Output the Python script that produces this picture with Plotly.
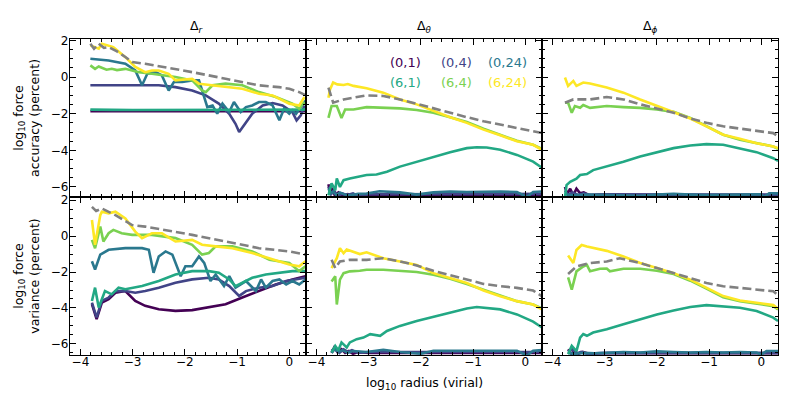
import plotly.graph_objects as go
from plotly.subplots import make_subplots

# viridis picks for the six (order, npoints) cases + reference line
case_names = ["(0,1)", "(0,4)", "(0,24)", "(6,1)", "(6,4)", "(6,24)"]
case_colors = ["#440154", "#414487", "#2a788e", "#22a884", "#7ad151", "#fde725"]
ref_color = "#808080"

col_titles = ["Δ<sub><i>r</i></sub>", "Δ<sub><i>θ</i></sub>", "Δ<sub><i>ϕ</i></sub>"]
row_titles = ["log<sub>10</sub> force<br>accuracy (percent)",
              "log<sub>10</sub> force<br>variance (percent)"]
x_title = "log<sub>10</sub> radius (virial)"
x_ticks = [-4, -3, -2, -1, 0]
y_ticks = [-6, -4, -2, 0, 2]

# ---- Delta_r, accuracy
r_acc_x01 = [-3.81, -3.0, -2.0, -1.0, 0.0, 0.32]
r_acc_y01 = [-1.86, -1.86, -1.86, -1.87, -1.88, -1.86]
r_acc_x04 = [-3.81, -2.50, -2.18, -1.86, -1.60, -1.35, -1.15, -1.03, -0.96, -0.87, -0.71, -0.51,
             -0.32, -0.13, 0.06, 0.14, 0.22, 0.29]
r_acc_y04 = [-0.45, -0.45, -0.55, -0.73, -1.0, -1.45, -2.0, -2.55, -3.0, -2.64, -2.0, -1.55,
             -1.42, -1.55, -1.91, -2.36, -2.09, -1.55]
r_acc_x024 = [-3.81, -3.46, -3.14, -2.95, -2.82, -2.72, -2.56, -2.44, -2.31, -2.21, -2.05, -1.86,
              -1.73, -1.60, -1.57, -1.47, -1.38, -1.28, -1.15, -1.06, -0.93, -0.83, -0.71, -0.58,
              -0.45, -0.32, -0.19, -0.10, 0.0, 0.06, 0.13, 0.22, 0.32]
r_acc_y024 = [1.0, 0.91, 0.73, 0.36, -0.45, 0.18, 0.27, 0.09, -0.73, -0.27, -0.27, -0.18,
              -0.18, -1.27, -1.64, -1.55, -2.0, -1.45, -1.91, -1.36, -1.91, -1.64, -1.55, -1.36,
              -1.36, -1.55, -2.36, -1.73, -2.0, -1.82, -2.0, -1.64, -1.27]
r_acc_x61 = [-3.81, -3.6, -3.4, -3.0, -2.5, -2.0, -1.5, -1.0, -0.5, 0.0, 0.32]
r_acc_y61 = [-1.78, -1.80, -1.79, -1.80, -1.80, -1.80, -1.80, -1.80, -1.79, -1.80, -1.78]
r_acc_x64 = [-3.81, -3.72, -3.65, -3.59, -3.50, -3.40, -3.30, -3.14, -2.88, -2.63, -2.18, -1.86,
             -1.67, -1.60, -1.47, -1.22, -0.90, -0.58, -0.26, 0.06, 0.19, 0.29]
r_acc_y64 = [0.64, 0.45, 0.58, 0.50, 0.40, 0.45, 0.38, 0.45, 0.27, 0.18, 0.0, -0.18,
             -0.73, -0.82, -0.45, -0.36, -0.45, -0.82, -1.09, -1.45, -1.73, -1.36]
r_acc_x624 = [-3.81, -3.65, -3.59, -3.37, -3.14, -2.95, -2.76, -2.63, -2.50, -2.31, -2.18, -1.86,
              -1.73, -1.47, -1.22, -0.90, -0.58, -0.32, 0.0, 0.19, 0.29]
r_acc_y624 = [1.73, 1.55, 1.82, 1.64, 1.09, 0.55, 0.27, 0.36, 0.36, 0.18, -0.18, -0.09,
              -0.36, -0.45, -0.55, -0.64, -0.91, -1.0, -1.45, -1.55, -1.09]
r_acc_xref = [-3.81, -3.74, -3.65, -3.55, -3.46, -3.30, -3.14, -3.01, -2.76, -2.30, -1.86, -1.22,
              -0.58, -0.20, 0.0, 0.19, 0.32]
r_acc_yref = [1.82, 1.55, 1.82, 1.60, 1.64, 1.40, 1.10, 0.82, 0.73, 0.50, 0.27, -0.09,
              -0.45, -0.55, -0.64, -0.82, -1.0]

# ---- Delta_theta, accuracy
t_acc_x01 = [-3.77, -3.74, -3.70, -3.65, -3.58, -3.50, -3.40, -3.30, -3.10, -2.90, -2.0, -1.0, 0.0, 0.32]
t_acc_y01 = [-5.85, -6.3, -6.05, -6.45, -6.3, -6.5, -6.4, -6.5, -6.45, -6.5, -6.45, -6.45, -6.45, -6.45]
t_acc_x04 = [-3.77, -3.72, -3.66, -3.60, -3.50, -3.42, -3.30, -3.20, -3.0, -2.0, -1.0, 0.0, 0.32]
t_acc_y04 = [-6.0, -6.4, -6.2, -6.5, -6.35, -6.45, -6.35, -6.5, -6.4, -6.4, -6.38, -6.38, -6.38]
t_acc_x024 = [-3.77, -3.72, -3.68, -3.62, -3.55, -3.48, -3.36, -3.20, -3.04, -2.79, -2.40, -2.08,
              -1.76, -1.44, -1.12, -0.80, -0.48, -0.16, 0.03, 0.15, 0.32]
t_acc_y024 = [-6.1, -6.35, -6.25, -6.45, -6.3, -6.4, -6.45, -6.38, -6.36, -6.24, -6.3, -6.42,
              -6.3, -6.25, -6.28, -6.25, -6.25, -6.28, -6.55, -6.28, -6.25]
t_acc_x61 = [-3.77, -3.71, -3.64, -3.61, -3.55, -3.48, -3.36, -3.23, -3.04, -2.85, -2.65, -2.40,
             -2.08, -1.76, -1.44, -1.12, -0.93, -0.74, -0.48, -0.16, 0.15, 0.32]
t_acc_y61 = [-6.46, -5.81, -6.18, -5.54, -6.0, -5.63, -5.54, -5.45, -5.35, -5.32, -5.17, -4.89,
             -4.62, -4.34, -4.10, -3.88, -3.83, -3.85, -3.97, -4.25, -4.62, -4.95]
t_acc_x64 = [-3.77, -3.71, -3.61, -3.52, -3.45, -3.29, -3.04, -2.72, -2.40, -2.08, -1.76, -1.44,
             -1.12, -0.80, -0.48, -0.16, 0.15, 0.32]
t_acc_y64 = [-2.23, -1.58, -1.58, -2.23, -1.77, -1.77, -1.64, -1.68, -1.71, -1.80, -1.95, -2.19,
             -2.45, -2.82, -3.15, -3.48, -3.70, -3.92]
t_acc_x624 = [-3.77, -3.74, -3.68, -3.60, -3.48, -3.40, -3.29, -3.04, -2.72, -2.40, -2.08, -1.76,
              -1.44, -1.12, -0.80, -0.48, -0.16, 0.15, 0.32]
t_acc_y624 = [-1.13, -0.67, -0.30, -0.40, -0.43, -0.38, -0.48, -0.61, -0.85, -1.22, -1.49, -1.86,
              -2.19, -2.50, -2.87, -3.18, -3.51, -3.70, -3.97]
t_acc_xref = [-3.77, -3.68, -3.48, -3.29, -3.04, -2.72, -2.40, -2.08, -1.76, -1.44, -1.12, -0.80,
              -0.48, -0.16, 0.15, 0.32]
t_acc_yref = [-0.57, -1.40, -1.22, -1.13, -1.00, -1.03, -1.22, -1.46, -1.71, -1.95, -2.19, -2.41,
              -2.60, -2.78, -2.96, -3.06]

# ---- Delta_phi, accuracy
p_acc_x01 = [-3.76, -3.72, -3.66, -3.60, -3.54, -3.47, -3.40, -3.30, -3.10, -2.5, -1.5, -0.5, 0.32]
p_acc_y01 = [-6.0, -6.4, -6.1, -6.45, -6.1, -6.35, -6.3, -6.45, -6.42, -6.45, -6.45, -6.45, -6.45]
p_acc_x04 = [-3.76, -3.70, -3.62, -3.50, -3.40, -3.25, -3.0, -2.0, -1.0, 0.32]
p_acc_y04 = [-6.2, -6.45, -6.3, -6.45, -6.35, -6.45, -6.4, -6.42, -6.42, -6.42]
p_acc_x024 = [-3.76, -3.60, -3.30, -2.96, -2.50, -2.32, -2.00, -1.68, -1.36, -1.05, -0.41, 0.0,
              0.05, 0.15, 0.32]
p_acc_y024 = [-6.4, -6.45, -6.42, -6.45, -6.45, -6.49, -6.42, -6.38, -6.42, -6.45, -6.42, -6.4,
              -6.55, -6.35, -6.35]
p_acc_x61 = [-3.76, -3.73, -3.66, -3.60, -3.54, -3.47, -3.34, -3.22, -2.96, -2.64, -2.32, -2.00,
             -1.68, -1.36, -1.05, -0.73, -0.41, -0.09, 0.23, 0.32]
p_acc_y61 = [-6.55, -5.90, -5.72, -5.63, -5.55, -5.35, -5.30, -5.08, -4.89, -4.62, -4.34, -4.10,
             -3.88, -3.74, -3.66, -3.70, -3.88, -4.10, -4.43, -4.58]
p_acc_x64 = [-3.76, -3.70, -3.63, -3.57, -3.47, -3.41, -3.28, -2.96, -2.64, -2.32, -2.00, -1.68,
             -1.36, -1.05, -0.73, -0.41, -0.09, 0.23, 0.32]
p_acc_y64 = [-1.40, -1.40, -1.95, -1.58, -1.68, -1.53, -1.68, -1.58, -1.64, -1.68, -1.77, -1.90,
             -2.23, -2.69, -3.15, -3.42, -3.61, -3.79, -3.92]
p_acc_x624 = [-3.76, -3.70, -3.60, -3.54, -3.41, -3.28, -2.96, -2.64, -2.32, -2.00, -1.68, -1.36,
              -1.05, -0.73, -0.41, -0.09, 0.23, 0.32]
p_acc_y624 = [-0.02, -0.48, -0.21, -0.48, -0.30, -0.35, -0.57, -0.85, -1.22, -1.58, -1.90, -2.26,
              -2.69, -3.15, -3.37, -3.61, -3.79, -3.88]
p_acc_xref = [-3.76, -3.60, -3.28, -2.96, -2.64, -2.32, -2.00, -1.68, -1.36, -1.05, -0.73, -0.41,
              -0.09, 0.23, 0.32]
p_acc_yref = [-1.40, -1.22, -1.22, -1.09, -1.22, -1.49, -1.71, -1.95, -2.26, -2.50, -2.69, -2.82,
              -2.96, -3.06, -3.24]

# ---- Delta_r, variance
r_var_x01 = [-3.78, -3.69, -3.59, -3.46, -3.33, -3.14, -2.95, -2.76, -2.50, -2.18, -1.86, -1.54,
             -1.22, -0.90, -0.58, -0.26, 0.06, 0.31]
r_var_y01 = [-3.79, -4.62, -3.70, -3.51, -3.15, -3.06, -3.61, -3.88, -4.07, -4.16, -4.12, -3.97,
             -3.79, -3.42, -3.06, -2.69, -2.41, -2.23]
r_var_x04 = [-3.78, -3.69, -3.59, -3.46, -3.33, -3.14, -2.95, -2.76, -2.50, -2.18, -1.86, -1.54,
             -1.35, -1.15, -0.96, -0.83, -0.58, -0.32, -0.06, 0.13, 0.31]
r_var_y04 = [-3.70, -4.53, -3.61, -3.42, -3.06, -3.06, -3.15, -3.06, -2.87, -2.60, -2.41, -2.32,
             -2.41, -2.78, -3.33, -3.06, -2.87, -2.78, -2.50, -2.41, -2.32]
r_var_x024 = [-3.78, -3.72, -3.62, -3.46, -3.14, -2.82, -2.69, -2.60, -2.50, -2.37, -2.24, -2.15,
              -2.08, -1.99, -1.86, -1.73, -1.63, -1.51, -1.41, -1.25, -1.15, -1.03, -0.83, -0.64,
              -0.54, -0.45, -0.32, -0.19, -0.06, 0.06, 0.19, 0.31]
r_var_y024 = [-1.40, -1.86, -1.03, -0.76, -0.67, -0.67, -0.76, -2.04, -1.13, -0.85, -1.03, -1.77,
              -2.23, -1.68, -1.68, -1.13, -1.49, -2.50, -2.14, -2.78, -2.23, -2.87, -2.50, -3.06,
              -2.41, -2.87, -2.50, -2.41, -2.69, -2.50, -2.69, -2.41]
r_var_x61 = [-3.78, -3.72, -3.65, -3.53, -3.40, -3.27, -3.14, -2.82, -2.50, -2.18, -1.86, -1.54,
             -1.35, -1.15, -1.03, -0.90, -0.71, -0.45, -0.19, 0.06, 0.31]
r_var_y61 = [-3.61, -2.87, -3.97, -3.06, -3.24, -2.87, -2.96, -2.78, -2.50, -2.14, -1.95, -1.95,
             -2.04, -2.41, -2.78, -2.60, -2.32, -2.14, -2.04, -1.95, -1.95]
r_var_x64 = [-3.78, -3.72, -3.62, -3.56, -3.46, -3.37, -3.21, -3.01, -2.63, -2.18, -1.86, -1.67,
             -1.54, -1.41, -1.09, -0.71, -0.38, 0.0, 0.19, 0.31]
r_var_y64 = [-0.21, -0.67, 0.53, -0.30, 0.16, 0.35, 0.16, 0.07, 0.07, -0.11, -0.48, -1.03,
             -0.94, -0.57, -0.57, -0.85, -1.31, -1.49, -1.95, -1.68]
r_var_x624 = [-3.78, -3.72, -3.62, -3.59, -3.46, -3.33, -3.14, -2.95, -2.82, -2.63, -2.44, -2.18,
              -1.86, -1.67, -1.41, -1.09, -0.71, -0.32, 0.0, 0.19, 0.31]
r_var_y624 = [0.9, -0.48, 1.17, 1.36, 1.27, 1.36, 0.99, 0.25, -0.11, 0.16, 0.16, -0.30,
              -0.21, -0.48, -0.57, -0.67, -0.94, -1.31, -1.58, -1.68, -1.40]
r_var_xref = [-3.78, -3.70, -3.59, -3.33, -3.01, -2.76, -1.86, -1.22, -0.58, 0.0, 0.31]
r_var_yref = [1.63, 1.40, 1.54, 1.17, 0.62, 0.53, 0.07, -0.30, -0.67, -0.85, -1.03]

# ---- Delta_theta, variance
t_var_x01 = [-3.71, -3.66, -3.60, -3.52, -3.45, -3.38, -3.30, -3.20, -3.0, -2.0, -1.0, 0.32]
t_var_y01 = [-6.5, -6.2, -6.45, -6.3, -6.5, -6.4, -6.55, -6.45, -6.5, -6.5, -6.5, -6.5]
t_var_x04 = [-3.71, -3.64, -3.56, -3.48, -3.40, -3.32, -3.20, -3.0, -2.0, -1.0, 0.32]
t_var_y04 = [-6.4, -6.2, -6.5, -6.3, -6.45, -6.35, -6.5, -6.45, -6.45, -6.45, -6.45]
t_var_x024 = [-3.71, -3.65, -3.58, -3.50, -3.40, -3.30, -3.04, -2.72, -2.40, -2.00, -1.76, -1.44,
              -1.12, -0.80, -0.48, -0.16, 0.03, 0.15, 0.32]
t_var_y024 = [-6.5, -6.3, -6.45, -6.35, -6.5, -6.4, -6.45, -6.33, -6.45, -6.55, -6.38, -6.38,
              -6.35, -6.38, -6.35, -6.38, -6.65, -6.38, -6.35]
t_var_x61 = [-3.71, -3.64, -3.58, -3.52, -3.42, -3.36, -3.23, -3.10, -2.97, -2.78, -2.65, -2.40,
             -2.08, -1.76, -1.44, -1.12, -0.93, -0.74, -0.48, -0.16, 0.15, 0.32]
t_var_y61 = [-6.48, -6.11, -6.35, -5.92, -6.2, -5.92, -5.74, -5.65, -5.46, -5.55, -5.28, -5.00,
             -4.73, -4.50, -4.27, -4.03, -3.95, -3.99, -4.08, -4.36, -4.76, -5.09]
t_var_x64 = [-3.71, -3.64, -3.61, -3.55, -3.48, -3.36, -3.17, -3.04, -2.72, -2.40, -2.08, -1.76,
             -1.44, -1.12, -0.80, -0.48, -0.16, 0.15, 0.32]
t_var_y64 = [-2.52, -2.24, -3.81, -2.42, -2.06, -1.96, -1.93, -1.87, -1.87, -1.93, -2.00, -2.15,
             -2.37, -2.66, -2.98, -3.29, -3.62, -3.81, -4.03]
t_var_x624 = [-3.71, -3.61, -3.55, -3.48, -3.42, -3.29, -3.17, -3.04, -2.72, -2.40, -2.08, -1.76,
              -1.44, -1.12, -0.80, -0.48, -0.16, 0.15, 0.32]
t_var_y624 = [-1.78, -1.23, -0.67, -0.95, -0.75, -0.86, -1.0, -0.90, -1.23, -1.41, -1.60, -2.06,
              -2.33, -2.61, -3.03, -3.35, -3.62, -3.81, -4.08]
t_var_xref = [-3.71, -3.64, -3.55, -3.36, -3.04, -2.72, -2.40, -2.08, -1.76, -1.44, -1.12, -0.80,
              -0.48, -0.16, 0.15, 0.32]
t_var_yref = [-1.32, -1.78, -1.41, -1.32, -1.32, -1.23, -1.41, -1.63, -1.93, -2.18, -2.42, -2.66,
              -2.79, -2.88, -3.03, -3.35]

# ---- Delta_phi, variance
p_var_x01 = [-3.70, -3.64, -3.58, -3.50, -3.42, -3.30, -3.0, -2.0, -1.0, 0.32]
p_var_y01 = [-6.3, -6.55, -6.4, -6.55, -6.45, -6.55, -6.52, -6.52, -6.52, -6.52]
p_var_x04 = [-3.70, -3.62, -3.55, -3.45, -3.35, -3.0, -2.0, -1.0, 0.32]
p_var_y04 = [-6.45, -6.3, -6.55, -6.45, -6.55, -6.5, -6.5, -6.5, -6.5]
p_var_x024 = [-3.70, -3.60, -3.40, -3.20, -2.96, -2.64, -2.32, -2.00, -1.68, -1.36, -1.05, -0.73,
              -0.41, -0.09, 0.0, 0.10, 0.32]
p_var_y024 = [-6.5, -6.55, -6.5, -6.52, -6.5, -6.45, -6.48, -6.42, -6.45, -6.48, -6.45, -6.48,
              -6.45, -6.48, -6.6, -6.4, -6.4]
p_var_x61 = [-3.70, -3.63, -3.54, -3.47, -3.41, -3.34, -3.22, -3.09, -2.96, -2.64, -2.32, -2.00,
             -1.68, -1.36, -1.05, -0.73, -0.41, -0.09, 0.23, 0.32]
p_var_y61 = [-6.57, -6.11, -6.40, -5.65, -5.46, -5.55, -5.37, -5.28, -5.19, -4.91, -4.63, -4.36,
             -4.14, -3.95, -3.84, -3.90, -3.99, -4.17, -4.54, -4.73]
p_var_x64 = [-3.70, -3.63, -3.54, -3.41, -3.34, -3.28, -3.09, -2.96, -2.90, -2.64, -2.32, -2.00,
             -1.68, -1.36, -1.05, -0.73, -0.41, -0.09, 0.23, 0.32]
p_var_y64 = [-2.30, -2.98, -1.96, -1.69, -1.60, -1.96, -1.82, -1.80, -1.96, -1.82, -1.82, -1.93,
             -2.11, -2.48, -2.92, -3.40, -3.62, -3.77, -3.90, -4.08]
p_var_x624 = [-3.70, -3.60, -3.54, -3.44, -3.34, -3.22, -2.96, -2.64, -2.32, -2.00, -1.68, -1.36,
              -1.05, -0.73, -0.41, -0.09, 0.23, 0.32]
p_var_y624 = [-1.08, -1.50, -0.77, -0.49, -0.58, -0.65, -0.82, -1.13, -1.50, -1.78, -2.06, -2.42,
              -2.88, -3.34, -3.58, -3.71, -3.84, -4.03]
p_var_xref = [-3.70, -3.54, -3.28, -2.96, -2.71, -2.32, -2.00, -1.68, -1.36, -1.05, -0.73, -0.41,
              -0.09, 0.23, 0.32]
p_var_yref = [-2.11, -1.69, -1.50, -1.41, -1.23, -1.50, -1.78, -2.06, -2.33, -2.61, -2.79, -2.88,
              -2.98, -3.07, -3.29]

panels = {
    (1, 1): [(r_acc_x01, r_acc_y01), (r_acc_x04, r_acc_y04), (r_acc_x024, r_acc_y024),
             (r_acc_x61, r_acc_y61), (r_acc_x64, r_acc_y64), (r_acc_x624, r_acc_y624),
             (r_acc_xref, r_acc_yref)],
    (1, 2): [(t_acc_x01, t_acc_y01), (t_acc_x04, t_acc_y04), (t_acc_x024, t_acc_y024),
             (t_acc_x61, t_acc_y61), (t_acc_x64, t_acc_y64), (t_acc_x624, t_acc_y624),
             (t_acc_xref, t_acc_yref)],
    (1, 3): [(p_acc_x01, p_acc_y01), (p_acc_x04, p_acc_y04), (p_acc_x024, p_acc_y024),
             (p_acc_x61, p_acc_y61), (p_acc_x64, p_acc_y64), (p_acc_x624, p_acc_y624),
             (p_acc_xref, p_acc_yref)],
    (2, 1): [(r_var_x01, r_var_y01), (r_var_x04, r_var_y04), (r_var_x024, r_var_y024),
             (r_var_x61, r_var_y61), (r_var_x64, r_var_y64), (r_var_x624, r_var_y624),
             (r_var_xref, r_var_yref)],
    (2, 2): [(t_var_x01, t_var_y01), (t_var_x04, t_var_y04), (t_var_x024, t_var_y024),
             (t_var_x61, t_var_y61), (t_var_x64, t_var_y64), (t_var_x624, t_var_y624),
             (t_var_xref, t_var_yref)],
    (2, 3): [(p_var_x01, p_var_y01), (p_var_x04, p_var_y04), (p_var_x024, p_var_y024),
             (p_var_x61, p_var_y61), (p_var_x64, p_var_y64), (p_var_x624, p_var_y624),
             (p_var_xref, p_var_yref)],
}

fig = make_subplots(rows=2, cols=3, horizontal_spacing=0, vertical_spacing=0)

for (row, col), curves in panels.items():
    for i, (xs, ys) in enumerate(curves):
        if i < 6:
            line = dict(color=case_colors[i], width=2.6)
        else:
            line = dict(color=ref_color, width=2.6, dash="9px,4px")
        fig.add_trace(go.Scatter(x=xs, y=ys, mode="lines", line=line, showlegend=False),
                      row=row, col=col)

axis_common = dict(showline=True, linecolor="black", linewidth=1.3, mirror="allticks",
                   ticks="inside", ticklen=6, tickwidth=1.3, tickcolor="black",
                   showgrid=False, zeroline=False, automargin=False,
                   tickfont=dict(size=12, color="black"))

for row in (1, 2):
    for col in (1, 2, 3):
        fig.update_xaxes(range=[-4.2, 0.32], tickvals=x_ticks,
                         minor=dict(ticks="inside", dtick=0.2, tick0=0, ticklen=3,
                                    tickwidth=1, tickcolor="black"),
                         showticklabels=(row == 2), ticklabelstandoff=-5,
                         **axis_common, row=row, col=col)
        fig.update_yaxes(range=[-6.55, 2.08] if row == 1 else [-6.62, 2.18], tickvals=y_ticks,
                         minor=dict(ticks="inside", dtick=0.5, tick0=0, ticklen=3,
                                    tickwidth=1, tickcolor="black"),
                         showticklabels=(col == 1), ticklabelstandoff=-2,
                         **axis_common, row=row, col=col)
    fig.update_yaxes(title=dict(text=row_titles[row - 1], standoff=8,
                                font=dict(size=12.5, color="black")), row=row, col=1)

# case labels inside the top-middle panel
label_x = [-2.30, -1.31, -0.35]
label_y = [0.77, -0.27]
for i, name in enumerate(case_names):
    fig.add_annotation(x=label_x[i % 3], y=label_y[i // 3], xref="x2", yref="y2", text=name,
                       showarrow=False, font=dict(size=13, color=case_colors[i]))

col_centers = [1 / 6, 0.5, 5 / 6]
for i, t in enumerate(col_titles):
    fig.add_annotation(x=col_centers[i], y=1.0, xref="paper", yref="paper", yshift=13,
                       yanchor="middle", text=t, showarrow=False,
                       font=dict(size=12.5, color="black"))

fig.add_annotation(x=0.5, y=0, xref="paper", yref="paper", yshift=-28, yanchor="middle",
                   text=x_title, showarrow=False, font=dict(size=12.5, color="black"))

# page body has an 8px margin, so the figure is sized to fit the window from (8, 8)
fig.update_layout(width=781, height=387, margin=dict(l=62, r=11, t=31, b=40),
                  plot_bgcolor="white", paper_bgcolor="white",
                  font=dict(family="DejaVu Sans", color="black"))

fig.write_html("out.html")
